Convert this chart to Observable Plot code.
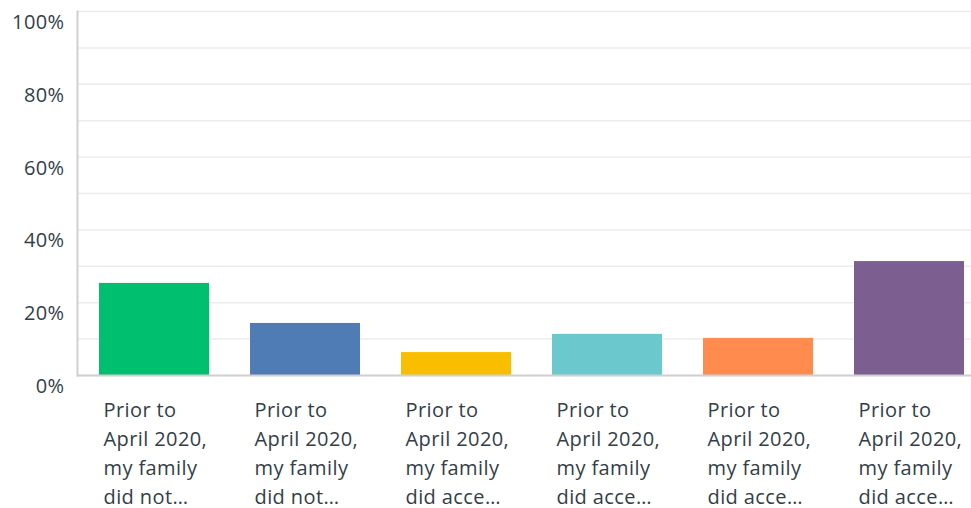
<!DOCTYPE html>
<html>
<head>
<meta charset="utf-8">
<script src="https://cdn.jsdelivr.net/npm/d3@7"></script>
<script src="https://cdn.jsdelivr.net/npm/@observablehq/plot@0.6"></script>
<style>
  html, body { margin: 0; padding: 0; background: #fff; }
  #chart { width: 971px; height: 508px; }
</style>
</head>
<body>
<div id="chart"></div>
<script>
const labels = [
  "Prior to\nApril 2020,\nmy family\ndid not…",
  "Prior to\nApril 2020,\nmy family\ndid not…",
  "Prior to\nApril 2020,\nmy family\ndid acce…",
  "Prior to\nApril 2020,\nmy family\ndid acce…",
  "Prior to\nApril 2020,\nmy family\ndid acce…",
  "Prior to\nApril 2020,\nmy family\ndid acce…"
];
const values = [0.253, 0.143, 0.063, 0.113, 0.102, 0.313];
const colors = ["#00bf6f", "#507cb6", "#f9be00", "#6bc8cd", "#ff8b4f", "#7d5e90"];
const yTicks = [0, 0.2, 0.4, 0.6, 0.8, 1];
const gridTicks = [0, 0.1, 0.2, 0.3, 0.4, 0.5, 0.6, 0.7, 0.8, 0.9, 1];

const data = labels.map((label, i) => ({i, label, value: values[i], color: colors[i]}));

const font = "'Open Sans', sans-serif";
const textColor = "#333e48";

const chart = Plot.plot({
  width: 971,
  height: 508,
  marginTop: 11,
  marginBottom: 133,
  marginLeft: 77,
  marginRight: 0,
  style: {fontFamily: font, background: "#fff", overflow: "visible", letterSpacing: "0.4px"},
  x: {domain: d3.range(labels.length), paddingInner: 0.2715, paddingOuter: 0.096, align: 0.76, axis: null},
  y: {domain: [0, 1], axis: null},
  marks: [
    Plot.gridY(gridTicks, {stroke: "#ececec", strokeOpacity: 1, strokeWidth: 1.5}),
    Plot.barY(data, {x: "i", y: "value", fill: "color"}),
    Plot.ruleY([0], {stroke: "#d0d0d0", strokeWidth: 2}),
    Plot.frame({anchor: "left", stroke: "#d0d0d0", strokeWidth: 2}),
    Plot.axisY(yTicks, {
      tickSize: 0, tickPadding: 13, dy: 11,
      tickFormat: d => `${Math.round(d * 100)}%`,
      fontSize: 20, fill: textColor, label: null
    }),
    Plot.text(data, {
      x: "i", y: () => 0, text: "label",
      textAnchor: "start", lineAnchor: "top",
      dx: -51, dy: 21, fontSize: 20, lineHeight: 1.45, fill: textColor
    })
  ]
});
document.getElementById("chart").append(chart);
</script>
</body>
</html>
